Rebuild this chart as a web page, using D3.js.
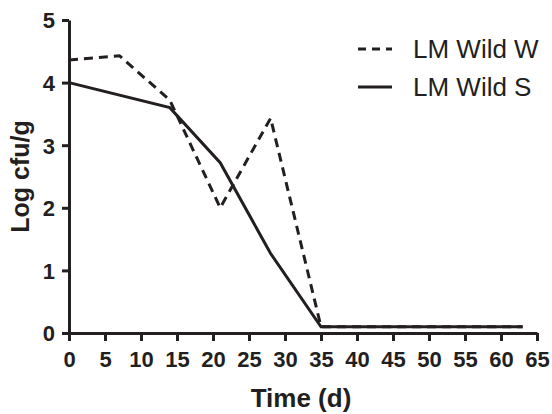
<!DOCTYPE html>
<html>
<head>
<meta charset="utf-8">
<script src="https://cdn.jsdelivr.net/npm/d3@7"></script>
<style>
  body { margin: 0; background: #fff; }
  text { font-family: "Liberation Sans", Arial, sans-serif; fill: #231f20; }
</style>
</head>
<body>
<div id="chart"></div>
<script>
// data
const days = [0, 7, 14, 21, 28, 35, 63]
const wildW = [4.36, 4.43, 3.72, 2.0, 3.43, 0.1, 0.1]
const daysS = [0, 14, 21, 28, 35, 63]
const wildS = [4.0, 3.6, 2.72, 1.27, 0.1, 0.1]
const xTicks = d3.range(0, 70, 5)
const yTicks = [0, 1, 2, 3, 4, 5]
const seriesNames = ['LM Wild W', 'LM Wild S']

const width = 552
const height = 414
const margin = { top: 20, right: 14, bottom: 81, left: 69 }
const ink = '#231f20'

const svg = d3.select('#chart').append('svg')
  .attr('width', width)
  .attr('height', height)

const x = d3.scaleLinear()
  .domain([0, 65])
  .range([margin.left, width - margin.right - 1])

const y = d3.scaleLinear()
  .domain([0, 5])
  .range([height - margin.bottom, margin.top])

// axes
const xAxis = svg.append('g')
  .attr('transform', 'translate(0,' + y(0) + ')')
  .call(d3.axisBottom(x).tickValues(xTicks).tickFormat(d3.format('d'))
    .tickSize(8).tickSizeOuter(0).tickPadding(10))

const yAxis = svg.append('g')
  .attr('transform', 'translate(' + x(0) + ',0)')
  .call(d3.axisLeft(y).tickValues(yTicks).tickFormat(d3.format('d'))
    .tickSize(7).tickSizeOuter(0).tickPadding(7))

;[xAxis, yAxis].forEach(a => {
  a.select('.domain').attr('stroke', ink).attr('stroke-width', 3)
  a.selectAll('.tick line').attr('stroke', ink).attr('stroke-width', 3)
  a.selectAll('.tick text')
    .style('font-family', '"Liberation Sans", Arial, sans-serif')
    .style('font-size', '22px')
    .style('font-weight', 'bold')
    .attr('fill', ink)
})
yAxis.selectAll('.tick text').attr('dy', '0.36em')

// lines
const line = d3.line()
  .x(d => x(d[0]))
  .y(d => y(d[1]))

svg.append('path')
  .datum(days.map((d, i) => [d, wildW[i]]))
  .attr('d', line)
  .attr('fill', 'none')
  .attr('stroke', ink)
  .attr('stroke-width', 3)
  .attr('stroke-dasharray', '9,6')

svg.append('path')
  .datum(daysS.map((d, i) => [d, wildS[i]]))
  .attr('d', line)
  .attr('fill', 'none')
  .attr('stroke', ink)
  .attr('stroke-width', 3)

// axis titles
svg.append('text')
  .text('Time (d)')
  .attr('x', x(32.5) - 2)
  .attr('y', 407)
  .attr('text-anchor', 'middle')
  .style('font-size', '26px')
  .style('font-weight', 'bold')

svg.append('text')
  .text('Log cfu/g')
  .attr('transform', 'translate(29,' + y(2.5) + ') rotate(-90)')
  .attr('text-anchor', 'middle')
  .style('font-size', '25px')
  .style('font-weight', 'bold')

// legend
const legend = svg.append('g')
seriesNames.forEach((name, i) => {
  const ly = 49 + i * 38
  legend.append('line')
    .attr('x1', 358).attr('x2', 392)
    .attr('y1', ly).attr('y2', ly)
    .attr('stroke', ink)
    .attr('stroke-width', 3)
    .attr('stroke-dasharray', i === 0 ? '8,6' : null)
  legend.append('text')
    .text(name)
    .attr('x', 413)
    .attr('y', ly + 9)
    .style('font-size', '26px')
})
</script>
</body>
</html>
